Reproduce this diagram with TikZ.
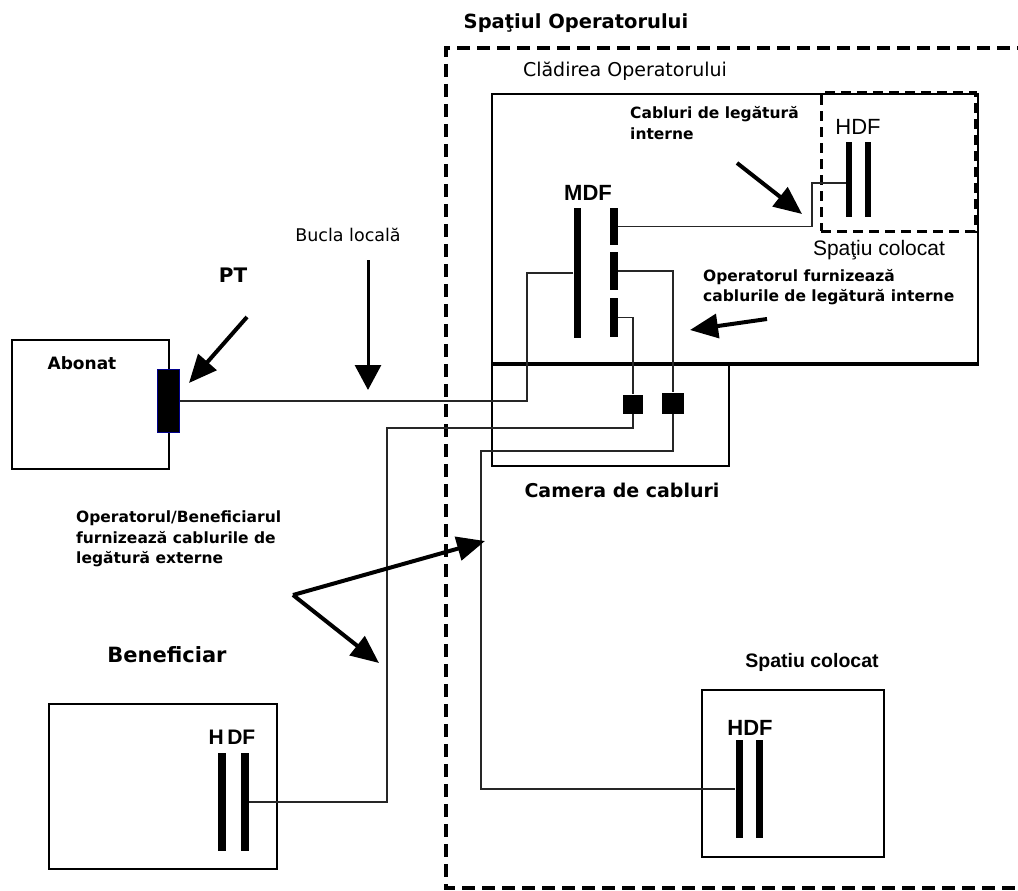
\documentclass[tikz,border=0pt]{standalone}
\usepackage{fontspec}
\setmainfont{DejaVu Sans}
\newfontfamily\arialf{Liberation Sans}
\usetikzlibrary{arrows.meta}
\tikzset{
  bar/.style={fill=black, draw=none, inner sep=0pt, minimum width=#1},
  bar/.default=7pt,
  wire/.style={line width=1.5pt, black!85},
  box/.style={draw, line width=2.5pt, inner sep=0pt, fill=none},
  thinbox/.style={draw, line width=1.8pt, inner sep=0pt},
  dashbox/.style={draw, line width=3pt, dash pattern=on 10pt off 6pt, inner sep=0pt},
  outerdash/.style={line width=4pt, dash pattern=on 13pt off 7pt},
  bigarrow/.style={line width=4pt, -{Triangle[length=28pt,width=24pt]}},
  sq/.style={fill=black, inner sep=0pt, minimum width=20pt, minimum height=19pt},
  smallbold/.style={font=\bfseries\fontsize{15.5}{20.5}\selectfont, align=left, inner sep=0pt},
  lbl/.style={inner sep=0pt}
}
\begin{document}
\begin{tikzpicture}[x=1pt,y=-1pt]
\useasboundingbox (0,0) rectangle (1018,891);
\fill[white] (0,0) rectangle (1018,891);

% outer operator space
\coordinate (oTL) at (446,48);
\coordinate (oBL) at (446,888);
\coordinate (oTR) at (1030,48);
\coordinate (oBR) at (1030,888);
\draw[outerdash] (oTR) -- (oTL) -- (oBL) -- (oBR);
\node[lbl, font=\bfseries\fontsize{19.5}{22}\selectfont] (title) at (576,23) {Spaţiul Operatorului};
\node[lbl, font=\fontsize{19}{22}\selectfont] (bldlbl) at (625,71) {Clădirea Operatorului};

% building
\node[thinbox, minimum width=486pt, minimum height=269pt] (bld) at (735,228.5) {};
\draw[line width=4.5pt] (bld.south west) -- (bld.south east);
% camera de cabluri
\node[thinbox, minimum width=237pt, minimum height=103pt] (cam) at (610.5,414.5) {};
\node[lbl, font=\bfseries\fontsize{19}{22}\selectfont] (camlbl) at (622,490) {Camera de cabluri};

% top colocation
\node[dashbox, minimum width=154pt, minimum height=138pt] (colT) at (898,162) {};
\node[lbl, font=\arialf\fontsize{22}{24}\selectfont] (hdfTlbl) at (858,127) {HDF};
\node[bar=6pt, minimum height=75pt] (hdfT1) at (849,179.5) {};
\node[bar=6pt, minimum height=75pt] (hdfT2) at (868,179.5) {};
\node[lbl, font=\arialf\fontsize{21}{24}\selectfont] (colTlbl) at (879,250) {Spaţiu colocat};

% MDF
\node[lbl, font=\arialf\bfseries\fontsize{22}{24}\selectfont] (mdflbl) at (588,193) {MDF};
\node[bar=7pt, minimum height=130pt] (mdfL) at (577,273) {};
\node[bar=8pt, minimum height=37pt] (mdfR1) at (614,226.5) {};
\node[bar=8pt, minimum height=38pt] (mdfR2) at (614,271) {};
\node[bar=8pt, minimum height=39pt] (mdfR3) at (614,317.5) {};

% squares in camera
\node[sq] (sq1) at (633,404) {};
\node[sq, minimum width=22pt, minimum height=21pt] (sq2) at (673,403) {};

% abonat
\node[box, line width=2pt, minimum width=157pt, minimum height=129pt] (abo) at (90.5,404.5) {};
\node[lbl, font=\bfseries\fontsize{17}{20}\selectfont] (abolbl) at (82,363) {Abonat};
\node[fill=black, draw=blue!55!black, line width=1pt, inner sep=0pt, minimum width=22pt, minimum height=63pt] (pt) at (168.5,401) {};
\node[lbl, font=\bfseries\fontsize{20}{22}\selectfont] (ptlbl) at (233,275) {PT};
\node[lbl, font=\fontsize{17.5}{20}\selectfont] (bucla) at (348,235) {Bucla locală};

% beneficiar
\node[lbl, font=\bfseries\fontsize{21}{24}\selectfont] (benlbl) at (167,655) {Beneficiar};
\node[box, minimum width=228pt, minimum height=165pt] (ben) at (163,786.5) {};
\node[lbl, font=\arialf\bfseries\fontsize{21}{24}\selectfont] (hdfBlbl) at (232,737) {H\,DF};
\node[bar=8pt, minimum height=98pt] (hdfB1) at (222,802) {};
\node[bar=8pt, minimum height=98pt] (hdfB2) at (245,802) {};

% bottom colocation
\node[lbl, font=\arialf\bfseries\fontsize{19.5}{22}\selectfont] (colBlbl) at (812,662) {Spatiu colocat};
\node[box, minimum width=182pt, minimum height=167pt] (colB) at (793,773.5) {};
\node[lbl, font=\arialf\bfseries\fontsize{22}{24}\selectfont] (hdfClbl) at (750,728) {HDF};
\node[bar=7pt, minimum height=98pt] (hdfC1) at (739,789) {};
\node[bar=7pt, minimum height=98pt] (hdfC2) at (759,789) {};

% wires
\coordinate (c1) at (812,183);
\coordinate (c4) at (527,401);
\coordinate (c5) at (387,428);
\coordinate (c6) at (481,451);
\draw[wire] (mdfR1.east) -| (c1) -- (c1 -| hdfT1.west);
\draw[wire] (mdfR2.east) -| (sq2.north);
\draw[wire] (mdfR3.east) -| (sq1.north);
\draw[wire] (mdfL.west) -| (c4) -- (pt.east);
\draw[wire] (sq1.south) |- (c5) |- (hdfB2.east);
\draw[wire] (sq2.south) |- (c6) |- (hdfC1.west);

% labels with arrows
\node[smallbold, anchor=west] (cabInt) at (630,123) {Cabluri de legătură\\interne};
\coordinate (a1s) at (737,163);
\coordinate (a1e) at (802,214);
\draw[bigarrow] (a1s) -- (a1e);

\node[smallbold, anchor=west] (opInt) at (703,287) {Operatorul furnizează\\cablurile de legătură interne};
\coordinate (a4s) at (767,319);
\coordinate (a4e) at (690,330);
\draw[bigarrow] (a4s) -- (a4e);

\coordinate (a2s) at (247,317);
\coordinate (a2e) at (189,383);
\draw[bigarrow] (a2s) -- (a2e);

\coordinate (a3s) at (368,260);
\coordinate (a3e) at (368,390);
\draw[line width=3pt, -{Triangle[length=25pt,width=26pt]}] (a3s) -- (a3e);

\node[smallbold, anchor=west] (opBen) at (76,539) {Operatorul/Beneficiarul\\furnizează cablurile de\\legătură externe};
\coordinate (vs) at (293,595);
\coordinate (v1) at (485,541);
\coordinate (v2) at (379,663);
\draw[bigarrow] (vs) -- (v1);
\draw[bigarrow] (vs) -- (v2);
\end{tikzpicture}
\end{document}
